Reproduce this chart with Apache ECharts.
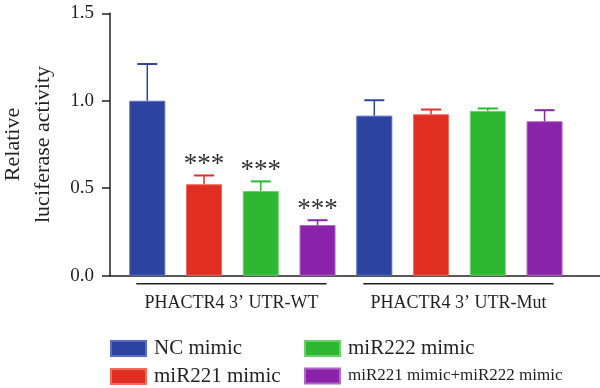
<!DOCTYPE html>
<html>
<head>
<meta charset="utf-8">
<script src="https://cdn.jsdelivr.net/npm/echarts@6/dist/echarts.min.js"></script>
<style>html,body{margin:0;padding:0;background:#fff;}#c{width:600px;height:388px;}</style>
</head>
<body>
<div id="c"></div>
<script>
const groups = ['PHACTR4 3\u2019 UTR-WT', 'PHACTR4 3\u2019 UTR-Mut'];
const seriesNames = ['NC mimic', 'miR221 mimic', 'miR222 mimic', 'miR221 mimic+miR222 mimic'];
const ncMimic = [1.00, 0.915];
const mir221Mimic = [0.523, 0.923];
const mir222Mimic = [0.484, 0.942];
const comboMimic = [0.29, 0.883];
const ncErr = [0.21, 0.088];
const mir221Err = [0.05, 0.027];
const mir222Err = [0.055, 0.014];
const comboErr = [0.027, 0.063];
const ncSig = ['', ''];
const mir221Sig = ['***', ''];
const mir222Sig = ['***', ''];
const comboSig = ['***', ''];
const yTicks = [0, 0.5, 1.0, 1.5];

const values = [ncMimic, mir221Mimic, mir222Mimic, comboMimic];
const errs = [ncErr, mir221Err, mir222Err, comboErr];
const sigs = [ncSig, mir221Sig, mir222Sig, comboSig];
const colors = ['#2c44a0', '#e02f22', '#2eb733', '#8b22aa'];
const borders = ['#5a6cc4', '#f06a5e', '#6ad06c', '#b068c8'];
const FONT = '"Liberation Serif", "Times New Roman", serif';
const INK = '#231f20';

const nS = seriesNames.length;
const pos = (g, s) => g * nS + s + 1;

const series = [];
seriesNames.forEach((name, s) => {
  series.push({
    name: name,
    type: 'bar',
    barWidth: 36,
    barGap: '-100%',
    z: 2,
    itemStyle: { color: colors[s], borderColor: borders[s], borderWidth: 1 },
    data: values[s].map((v, g) => [pos(g, s), v])
  });
});
seriesNames.forEach((name, s) => {
  series.push({
    name: name + ' error',
    type: 'custom',
    z: 3,
    clip: false,
    data: values[s].map((v, g) => [pos(g, s), v, v + errs[s][g]]),
    renderItem: function (params, api) {
      const x = api.value(0);
      const p0 = api.coord([x, api.value(1)]);
      const p1 = api.coord([x, api.value(2)]);
      const sig = sigs[s][params.dataIndex];
      const children = [
        { type: 'line', shape: { x1: p0[0], y1: p0[1], x2: p1[0], y2: p1[1] },
          style: { stroke: colors[s], lineWidth: 1.5 } },
        { type: 'line', shape: { x1: p1[0] - 10, y1: p1[1], x2: p1[0] + 10, y2: p1[1] },
          style: { stroke: colors[s], lineWidth: 2 } }
      ];
      if (sig) {
        children.push({ type: 'text', style: {
          text: sig, x: p1[0], y: p1[1] + 3, align: 'center', verticalAlign: 'bottom',
          font: '27px ' + FONT, fill: '#333' } });
      }
      return { type: 'group', children: children };
    }
  });
});
series.push({
  name: 'groups',
  type: 'custom',
  z: 3,
  clip: false,
  silent: true,
  data: groups.map((g, i) => [i]),
  renderItem: function (params, api) {
    const g = api.value(0);
    const a = api.coord([pos(g, 0), 0]);
    const b = api.coord([pos(g, nS - 1), 0]);
    const y = a[1] + 8;
    return { type: 'group', children: [
      { type: 'line', shape: { x1: a[0] - 11, y1: y, x2: b[0] + 9, y2: y },
        style: { stroke: INK, lineWidth: 1.5 } },
      { type: 'text', style: { text: groups[g], x: (a[0] + b[0]) / 2 - 1, y: y + 20,
        align: 'center', verticalAlign: 'middle', font: '18px ' + FONT, fill: INK } }
    ]};
  }
});

const legendBase = {
  orient: 'vertical', top: 338, padding: 0, height: 50,
  itemWidth: 35, itemHeight: 15, itemGap: 7, icon: 'rect', selectedMode: false,
  textStyle: { fontFamily: FONT, fontSize: 21, lineHeight: 20, color: INK, padding: [0, 0, 0, 3] }
};

const chart = echarts.init(document.getElementById('c'), null, { renderer: 'canvas' });
chart.setOption({
  animation: false,
  backgroundColor: '#fff',
  grid: { left: 110, right: 0, top: 13.3, bottom: 112.3, containLabel: false, outerBoundsMode: 'none' },
  xAxis: {
    type: 'value', min: 0.343, max: 8.977,
    axisLine: { show: true, onZero: false, lineStyle: { color: INK, width: 1.5 } },
    axisTick: { show: false }, axisLabel: { show: false }, splitLine: { show: false }
  },
  yAxis: {
    type: 'value', min: 0, max: 1.5, interval: 0.5,
    name: 'Relative\nluciferase activity',
    nameLocation: 'middle', nameRotate: 90, nameGap: 52,
    nameTextStyle: { fontFamily: FONT, fontSize: 22, color: INK, lineHeight: 30 },
    axisLine: { show: true, lineStyle: { color: INK, width: 1.5 } },
    axisTick: { show: true, length: 8, lineStyle: { color: INK, width: 1.5 } },
    axisLabel: { margin: 16, fontFamily: FONT, fontSize: 19, color: INK,
      formatter: v => yTicks.indexOf(v) >= 0 ? v.toFixed(1) : '' },
    splitLine: { show: false }
  },
  legend: [
    Object.assign({}, legendBase, { left: 110, data: [seriesNames[0], seriesNames[1]] }),
    Object.assign({}, legendBase, { left: 304,
      data: [seriesNames[2], { name: seriesNames[3], textStyle: { fontSize: 17 } }] })
  ],
  series: series
});
</script>
</body>
</html>
